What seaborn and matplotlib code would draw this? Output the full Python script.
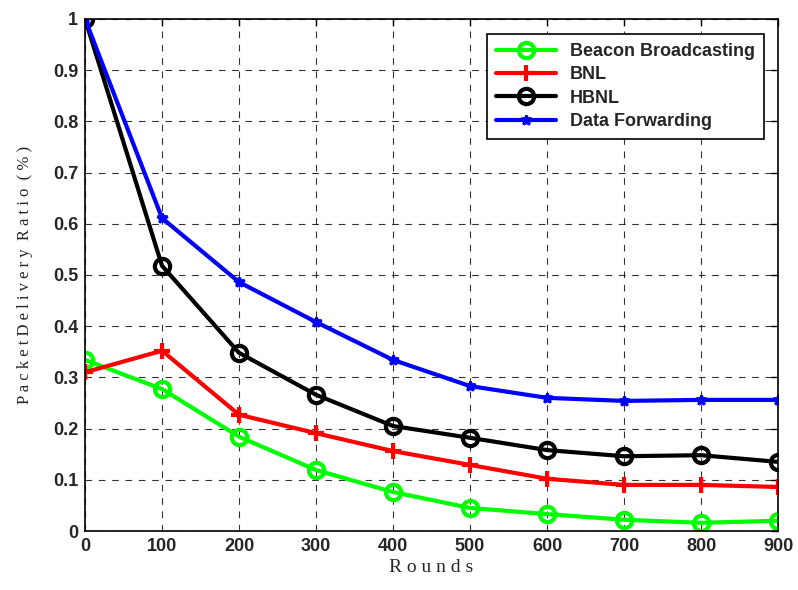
import matplotlib
matplotlib.use("Agg")
import matplotlib.pyplot as plt
import seaborn as sns
import pandas as pd

rounds = [0, 100, 200, 300, 400, 500, 600, 700, 800, 900]
beacon = [0.334, 0.277, 0.184, 0.119, 0.076, 0.045, 0.033, 0.022, 0.016, 0.020]
bnl = [0.310, 0.352, 0.227, 0.191, 0.156, 0.129, 0.102, 0.090, 0.090, 0.086]
hbnl = [1.0, 0.518, 0.348, 0.266, 0.205, 0.182, 0.158, 0.146, 0.148, 0.135]
forwarding = [1.0, 0.611, 0.486, 0.408, 0.334, 0.283, 0.260, 0.254, 0.256, 0.256]
names = ["Beacon Broadcasting", "BNL", "HBNL", "Data Forwarding"]
yticks = [0, 0.1, 0.2, 0.3, 0.4, 0.5, 0.6, 0.7, 0.8, 0.9, 1]
ytick_labels = ["0", "0.1", "0.2", "0.3", "0.4", "0.5", "0.6", "0.7", "0.8", "0.9", "1"]

sns.set_style("white")
fig = plt.figure(figsize=(7.98, 5.90), dpi=100)
ax = fig.add_axes([0.1065, 0.100, 0.8685, 0.868])

styles = [
    dict(color="#00ff00", marker="o", ms=11, mfc="none", mec="#00ff00", mew=3),
    dict(color="#ff0000", marker="+", ms=12, mec="#ff0000", mew=3),
    dict(color="#000000", marker="o", ms=11, mfc="none", mec="#000000", mew=3),
    dict(color="#0000ff", marker="*", ms=7, mfc="#0000ff", mec="#0000ff", mew=2),
]
for name, vals, st in zip(names, [beacon, bnl, hbnl, forwarding], styles):
    df = pd.DataFrame({"Rounds": rounds, "PDR": vals})
    sns.lineplot(data=df, x="Rounds", y="PDR", ax=ax, lw=3, label=name, **st)

ax.set_xlim(0, 900)
ax.set_ylim(0, 1)
ax.set_xticks(rounds)
ax.set_xticklabels([str(r) for r in rounds], fontsize=13, fontweight="bold", family="Liberation Sans")
ax.set_yticks(yticks)
ax.set_yticklabels(ytick_labels, fontsize=13, fontweight="bold", family="Liberation Sans")
ax.tick_params(direction="in", length=5, width=1, color="black", pad=5)
ax.tick_params(top=True, right=True)
ax.grid(True, color="black", ls=(0, (6, 6)), lw=0.8, alpha=0.8)
for s in ax.spines.values():
    s.set_color("black")
    s.set_linewidth(1.2)

ax.set_xlabel("R o u n d s", fontsize=14, family="Liberation Serif", labelpad=3)
ax.set_ylabel("P a c k e t D e l i v e r y  R a t i o  ( % )", fontsize=12, family="Liberation Serif", labelpad=14)

leg = ax.legend(loc="upper right", prop=dict(family="Liberation Sans", weight="bold", size=13),
                frameon=True, fancybox=False, edgecolor="black", framealpha=1,
                handlelength=3.3, borderpad=0.5, labelspacing=0.35, bbox_to_anchor=(0.993, 0.988))
leg.get_frame().set_linewidth(1.2)

fig.savefig("out.png", dpi=100)
